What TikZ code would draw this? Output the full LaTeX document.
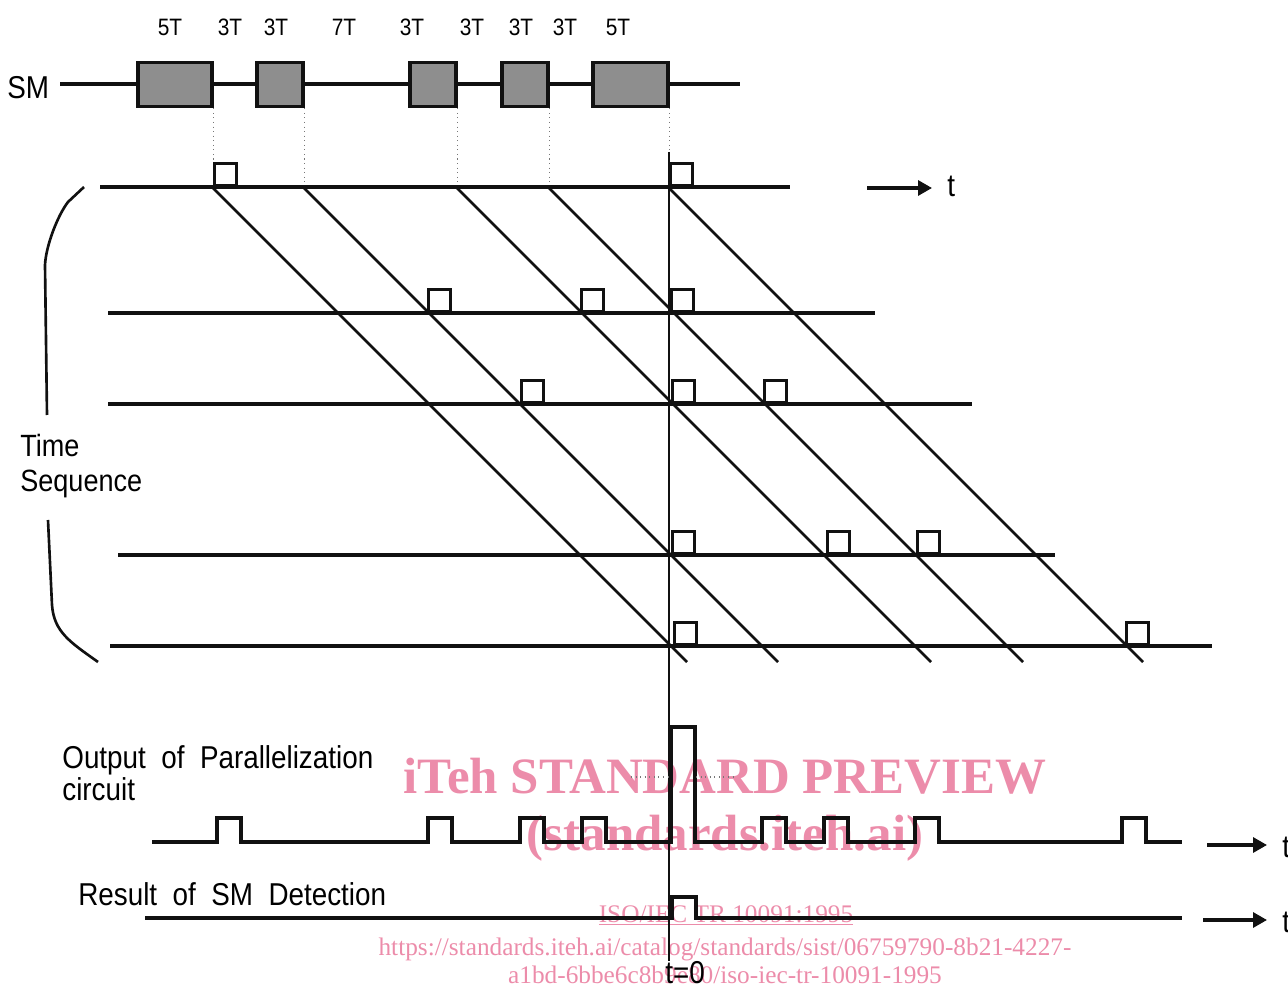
\documentclass[tikz,border=0pt]{standalone}
\usepackage{fontspec}
\setmainfont{Liberation Sans}[FakeStretch=0.88,WordSpace=2]
\newfontfamily\wmfont{Liberation Serif}
\usepackage{xcolor}
\definecolor{cInk}{HTML}{111111}
\definecolor{cMark}{HTML}{8E8E8E}
\definecolor{cDot}{HTML}{777777}
\definecolor{cWater}{HTML}{EC8CAA}
\usetikzlibrary{arrows.meta}
\tikzset{
  sm-mark/.style={draw=cInk,line width=2pt,fill=cMark,minimum height=0.88cm,inner sep=0pt},
  sync-box/.style={draw=cInk,line width=1.6pt,minimum size=0.44cm,inner sep=0pt,anchor=south west},
  time-line/.style={draw=cInk,line width=1.8pt},
  diag-line/.style={draw=cInk,line width=1.5pt},
  guide-line/.style={draw=cDot,dotted,line width=0.6pt},
  wave-line/.style={draw=cInk,line width=1.8pt},
  arrow/.style={-{Triangle[length=0.28cm,width=0.3cm]},line width=1.8pt,draw=cInk},
  label-big/.style={font=\fontsize{18}{18.2}\selectfont,inner sep=0pt,align=left},
  label-len/.style={font=\fontsize{13.5}{15}\selectfont,inner sep=0pt},
  wm-big/.style={font=\wmfont\bfseries\fontsize{29}{30}\selectfont,text=cWater,inner sep=0pt},
  wm-small/.style={font=\wmfont\fontsize{14.4}{16}\selectfont,text=cWater,inner sep=0pt},
}

\begin{document}
\begin{tikzpicture}[x=0.02cm,y=-0.02cm]
  \useasboundingbox (0,0) rectangle (1288,989);
  % watermark, behind the drawing
  \node[wm-big,anchor=base]   (wm-title) at (725,793) {iTeh STANDARD PREVIEW};
  \node[wm-big,anchor=base]   (wm-site)  at (725,850) {(standards.iteh.ai)};
  \node[wm-small,anchor=base] (wm-iso)   at (726,922) {\underline{ISO/IEC TR 10091:1995}};
  \node[wm-small,anchor=base] (wm-url1)  at (725,955) {https://standards.iteh.ai/catalog/standards/sist/06759790-8b21-4227-};
  \node[wm-small,anchor=base] (wm-url2)  at (725,983) {a1bd-6bbe6c8b9e80/iso-iec-tr-10091-1995};

  % SM line and marks
  \coordinate (sm-start) at (60,84);
  \coordinate (sm-end)   at (740,84);
  \draw[time-line] (sm-start) -- (sm-end);
  \node[label-big,anchor=base west] (sm) at (7,99) {SM};
  \foreach \cx/\w/\n in {175/1.48/1,280/0.92/2,433/0.92/3,525/0.92/4,630.5/1.5/5}
    \node[sm-mark,minimum width=\w cm] (sm\n) at (\cx,84.5) {};
  \foreach \lx/\txt [count=\i] in {170/5T,230/3T,276/3T,344/7T,412/3T,472/3T,521/3T,565/3T,618/5T}
    \node[label-len,anchor=base] (len\i) at (\lx,36) {\txt};
  \foreach \n in {1,...,5}
    \draw[guide-line] (sm\n.south east) -- ++(0,80);

  % time sequence lines
  \foreach \y/\xa/\xb [count=\i] in {187/100/790,313/108/875,404/108/972,555/118/1055,646/110/1212}{
    \coordinate (tl\i-a) at (\xa,\y);
    \coordinate (tl\i-b) at (\xb,\y);
    \draw[time-line] (tl\i-a) -- (tl\i-b);
  }
  \foreach \x in {212,303,456,548,668}
    \draw[diag-line] (\x,187) -- ++(475,475);
  \foreach \bx/\by [count=\i] in {213/187,669/187,427/313,580/313,670/313,520/404,671/404,763/404,671/555,826/555,916/555,673/646,1125/646}
    \node[sync-box] (box\i) at (\bx,\by) {};

  \node[label-big,anchor=north west,font=\fontsize{17.5}{20}\selectfont] (time-seq) at (20,434) {Time\\Sequence};
  \draw[diag-line] (84,187) -- (68,202) .. controls (58,215) and (46,245) .. (45,265) -- (47,415);
  \draw[diag-line] (48,520) -- (52,605) .. controls (54,632) and (70,642) .. (98,662);

  % t axis
  \node[label-big,anchor=base west] (t-axis) at (947,197) {t};
  \coordinate (t-axis-from) at (867,188);
  \draw[arrow,shorten >=0.3cm] (t-axis-from) -- (t-axis-from -| t-axis.west);

  % t = 0
  \coordinate (t0-top) at (669,152);
  \node[label-big,anchor=base] (t0) at (685,983) {t=0};
  \draw[diag-line] (t0-top) -- (t0-top |- t0.north);

  % output of parallelization
  \node[label-big,anchor=north west] (out-label) at (62,745) {Output of Parallelization\\circuit};
  \draw[wave-line] (152,842)
    \foreach \p/\h in {217/818,428/818,520/818,582/818,671/727,762/818,824/818,915/818,1122/818}
      { -- (\p,842) -- (\p,\h) -- (\p+24,\h) -- (\p+24,842) } -- (1182,842);
  \draw[guide-line] (631,777) -- (671,777);
  \draw[guide-line] (696,777) -- (734,777);
  \coordinate (out-arrow) at (1207,845);
  \node[label-big,anchor=base west] (t-out) at (1282,857) {t};
  \draw[arrow,shorten >=0.3cm] (out-arrow) -- (out-arrow -| t-out.west);

  % result of SM detection
  \node[label-big,anchor=base west] (res-label) at (78,905) {Result of SM Detection};
  \draw[wave-line] (145,918) -- (672,918) -- (672,897) -- (696,897) -- (696,918) -- (1182,918);
  \coordinate (res-arrow) at (1203,920);
  \node[label-big,anchor=base west] (t-res) at (1282,932) {t};
  \draw[arrow,shorten >=0.3cm] (res-arrow) -- (res-arrow -| t-res.west);
\end{tikzpicture}
\end{document}
